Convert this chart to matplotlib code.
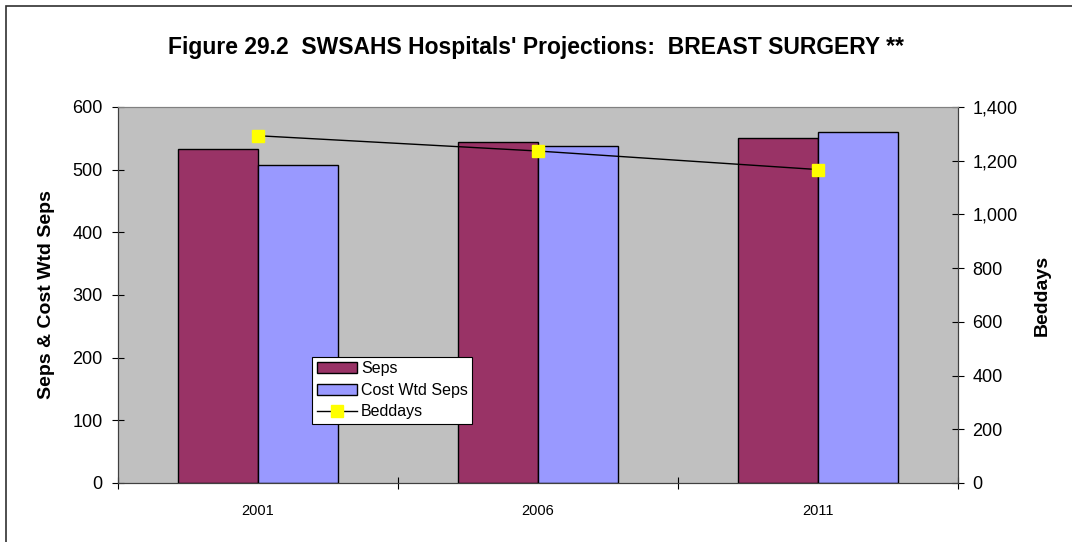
import numpy as np
import matplotlib
matplotlib.use('Agg')
import matplotlib.pyplot as plt
from matplotlib.patches import Rectangle
from matplotlib.ticker import FuncFormatter

plt.rcParams['font.family'] = ['Liberation Sans', 'DejaVu Sans']

years = ['2001', '2006', '2011']
seps = [533, 544, 551]
cost_wtd_seps = [508, 538, 560]
beddays = [1293, 1236, 1167]

fig = plt.figure(figsize=(10.72, 5.42), dpi=100)
# chart border: only top and left edges fall inside the picture
fig.patches.append(Rectangle((6/1072, -0.05), 1.1, 1.05 - 6/542, transform=fig.transFigure,
                             fill=False, edgecolor='#303030', linewidth=1.2))

ax = fig.add_axes([0.1101, 0.1089, 0.7836, 0.6937])
ax.set_facecolor('#C0C0C0')

x = np.arange(len(years))
w = 0.2857
ax.bar(x - w/2, seps, w, color='#993366', edgecolor='black', linewidth=1.0, label='Seps', zorder=2)
ax.bar(x + w/2, cost_wtd_seps, w, color='#9999FF', edgecolor='black', linewidth=1.0, label='Cost Wtd Seps', zorder=2)

ax.set_xlim(-0.5, 2.5)
ax.set_ylim(0, 600)
ax.set_yticks(range(0, 601, 100))
ax.set_xticks([-0.5, 0.5, 1.5, 2.5])
ax.set_xticklabels([])
ax.set_xticks(x, minor=True)
ax.set_xticklabels(years, minor=True, fontsize=10.5)
ax.tick_params(axis='x', which='minor', length=0, pad=15)
ax.tick_params(axis='x', which='major', direction='inout', length=8.5)
ax.tick_params(axis='y', direction='inout', length=8.5, labelsize=13, pad=7)
ax.set_ylabel('Seps & Cost Wtd Seps', fontsize=14, fontweight='bold')
ax.yaxis.set_label_coords(-0.075, 0.5)

ax2 = ax.twinx()
ax2.plot(x, beddays, color='black', linewidth=1.0, marker='s', markersize=8.8,
         markerfacecolor='#FFFF00', markeredgecolor='#FFFF00', label='Beddays', zorder=3)
ax2.set_ylim(0, 1400)
ax2.set_yticks(range(0, 1401, 200))
ax2.yaxis.set_major_formatter(FuncFormatter(lambda v, p: f'{int(v):,}'))
ax2.tick_params(axis='y', direction='inout', length=8.5, labelsize=13, pad=6)
ax2.set_ylabel('Beddays', fontsize=14, fontweight='bold')
ax2.yaxis.set_label_coords(1.0905, 0.5)

for a in (ax, ax2):
    a.spines['top'].set_color('#808080')
    a.spines['left'].set_color('#404040')
    a.spines['right'].set_color('#404040')
    a.spines['bottom'].set_color('#404040')

h1, l1 = ax.get_legend_handles_labels()
h2, l2 = ax2.get_legend_handles_labels()
leg = ax2.legend(h1 + h2, l1 + l2, loc='lower left', bbox_to_anchor=(0.231, 0.157),
                 fontsize=11.5, frameon=True, fancybox=False, edgecolor='black',
                 framealpha=1, borderpad=0.3, handlelength=2.5, labelspacing=0.4,
                 handletextpad=0.25, borderaxespad=0)
leg.get_frame().set_linewidth(0.8)

fig.text(0.5, 0.913, "Figure 29.2  SWSAHS Hospitals' Projections:  BREAST SURGERY **",
         ha='center', va='center', fontsize=16.5, fontweight='bold')

fig.savefig('out.png', dpi=100)
